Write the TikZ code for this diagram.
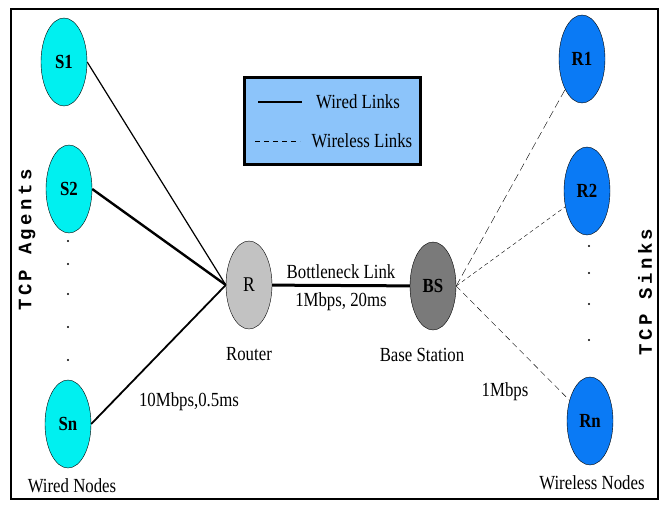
\documentclass[tikz,border=0pt]{standalone}
\usepackage{fontspec}
\setmainfont[FakeStretch=0.84]{Liberation Serif}
\newfontfamily\sidefont[LetterSpace=18]{Liberation Mono}
\usepackage{xcolor}
\definecolor{colorAgent}{RGB}{0,240,240}
\definecolor{colorSink}{RGB}{10,122,245}
\definecolor{colorRouter}{RGB}{194,194,194}
\definecolor{colorBase}{RGB}{122,122,122}
\definecolor{colorLegend}{RGB}{140,196,250}
\usetikzlibrary{shapes.geometric, positioning}
\tikzset{
  host/.style={ellipse, draw, thin, minimum width=46pt, minimum height=88pt, inner sep=0pt, font=\fontsize{20}{23}\selectfont\bfseries},
  agent/.style={host, fill=colorAgent},
  sink/.style={host, fill=colorSink},
  wired/.style={black, line width=1.5pt},
  wireless/.style={black, thin, dash pattern=on 6pt off 4pt},
  caption/.style={font=\fontsize{20}{23}\selectfont},
  sidetext/.style={rotate=90, font=\sidefont\fontsize{19}{22}\selectfont\bfseries},
}

\begin{document}
\begin{tikzpicture}[x=1pt, y=-1pt, node distance=10pt]
\useasboundingbox (0,0) rectangle (664,511);
\draw[line width=2pt] (11,9) rectangle (658,499);
% hosts
\node[agent] (s1) at (64,62) {S1};
\node[agent] (s2) at (69,189) {S2};
\node[agent] (sn) at (68,424) {Sn};
\node[host, fill=colorRouter, font=\fontsize{21}{24}\selectfont] (r) at (249,285) {R};
\node[host, fill=colorBase] (bs) at (433,286) {BS};
\node[sink] (r1) at (582,59) {R1};
\node[sink] (r2) at (587,191) {R2};
\node[sink] (rn) at (590,421) {Rn};
\foreach \y in {241,264,294,327,360} \fill (68,\y) circle (1.2pt);
\foreach \y in {246,273,304,340} \fill (589,\y) circle (1.2pt);
% captions
\node[caption, below=15pt of r] (router) {Router};
\node[caption, below=15pt of bs, xshift=-11pt] (base) {Base Station};
\node[caption, below=7pt of sn, xshift=4pt] (wiredcap) {Wired Nodes};
\node[caption, below=7pt of rn, xshift=2pt] (wirelesscap) {Wireless Nodes};
\node[caption] (wiredrate) at (189,402) {10Mbps,0.5ms};
\node[caption] (wirelessrate) at (505,392) {1Mbps};
\node[sidetext] (agents) at (27,240) {TCP Agents};
\node[sidetext] (sinks) at (645,292) {TCP Sinks};
% legend
\node[draw, line width=3pt, fill=colorLegend, minimum width=176pt, minimum height=86pt] (legend) at (332,121) {};
\coordinate (wa) at (258,102); \coordinate (wb) at (302,102);
\coordinate (da) at (255,141); \coordinate (db) at (300,141);
\draw[line width=2.5pt] (wa) -- (wb);
\draw[thin, dash pattern=on 5pt off 4pt] (da) -- (db);
\node[caption] (wiredkey) at (358,102) {Wired Links};
\node[caption] (wirelesskey) at (362,141) {Wireless Links};
% links
\draw [wired] (s1.east) edge [line width=1.2pt] (r.west);
\draw [wired] (s2.east) edge [line width=2.4pt] (r.west);
\draw [wired] (sn.east) edge [line width=1.8pt] (r.west);
\draw [wired] (r) edge [line width=3pt] node [caption, above=2pt]{Bottleneck Link} node [caption, below=2pt]{1Mbps, 20ms} (bs);
\draw [wireless] (bs.east) edge [dash pattern=on 8pt off 4pt] (r1);
\draw [wireless] (bs.east) edge [dash pattern=on 4pt off 3pt] (r2);
\draw [wireless] (bs.east) edge [] (rn);
\end{tikzpicture}
\end{document}
